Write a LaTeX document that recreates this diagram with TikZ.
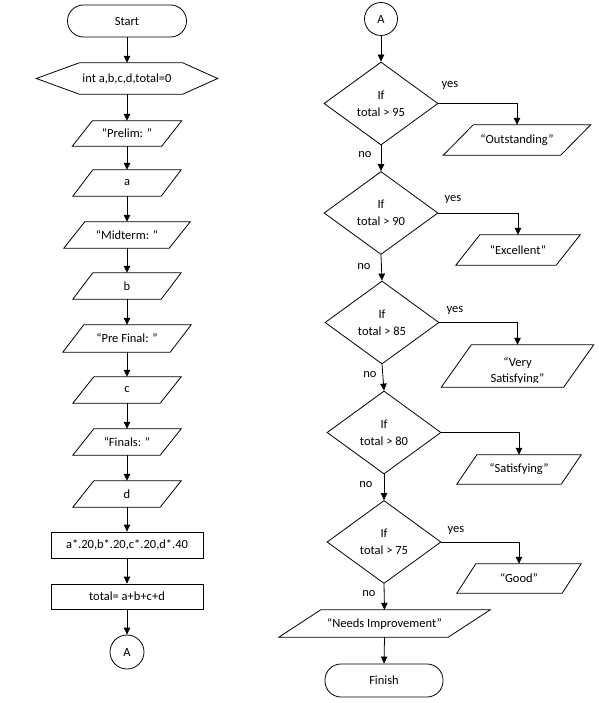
\documentclass[tikz,border=0pt]{standalone}
\usepackage{fontspec}
\setmainfont{Carlito}
\usetikzlibrary{shapes.geometric,arrows.meta}
\newcommand\ioshape[7]{%
  \node[iotext,minimum width=#4,minimum height=#5] (#1) at (#2,#3) {#7};
  \draw[shapeline] ([xshift=-#6/2]#1.south west) -- ([xshift=#6/2]#1.north west) -- ([xshift=#6/2]#1.north east) -- ([xshift=-#6/2]#1.south east) -- cycle;
}
\tikzset{
  every node/.style={font=\fontsize{12.5}{14}\selectfont, text=black},
  iotext/.style={inner sep=0pt, draw=none, align=center},
  shapeline/.style={draw=black, line width=0.8pt, line join=miter},
  term/.style={draw, line width=0.8pt, rounded corners=16pt, minimum width=119pt, minimum height=32pt, inner sep=0pt},
  proc/.style={draw, line width=0.8pt, minimum width=152pt, minimum height=26pt, inner sep=0pt},
  connect/.style={circle, draw, line width=0.8pt, minimum size=34pt, inner sep=0pt},
  decision/.style={diamond, draw, line width=0.8pt, minimum width=114pt, minimum height=83pt, inner sep=0pt, align=center, font=\fontsize{12.5}{17}\selectfont},
  arr/.style={-{Triangle[length=7pt,width=6.5pt]}, line width=0.8pt},
  lbl/.style={inner sep=0pt}
}
\begin{document}
\begin{tikzpicture}[x=1pt,y=-1pt]
\useasboundingbox (0,0) rectangle (598,703);
% left column
\node[term] (start) at (127,21) {Start};
\node[iotext, minimum width=181, minimum height=31] (hex) at (127,78.5) {int a,b,c,d,total=0};
\draw[shapeline] (hex.west) -- ([xshift=43]hex.north west) -- ([xshift=-35]hex.north east) -- (hex.east) -- ([xshift=-35]hex.south east) -- ([xshift=43]hex.south west) -- cycle;
\ioshape{prelim}{127}{133.5}{89}{25}{20}{“Prelim: ”}
\ioshape{va}{127}{183}{88}{26}{20}{a}
\ioshape{mid}{127}{235}{105}{26}{21}{“Midterm: ”}
\ioshape{vb}{127}{286}{88}{26}{20}{b}
\ioshape{pre}{127}{338.5}{107}{27}{21}{“Pre Final: ”}
\ioshape{vc}{127}{390}{87}{26}{21}{c}
\ioshape{fin}{127}{442}{87}{26}{21}{“Finals: ”}
\ioshape{vd}{127}{494}{87}{26}{21}{d}
\node[proc] (calc) at (127,545) {a*.20,b*.20,c*.20,d*.40};
\node[proc, minimum height=25pt] (tot) at (127,596.5) {total= a+b+c+d};
\node[connect] (A1) at (127,652) {A};
\draw[arr] (start.south) -- (hex.north);
\draw[arr] (hex.south) -- (prelim.north);
\draw[arr] (prelim.south) -- (va.north);
\draw[arr] (va.south) -- (mid.north);
\draw[arr] (mid.south) -- (vb.north);
\draw[arr] (vb.south) -- (pre.north);
\draw[arr] (pre.south) -- (vc.north);
\draw[arr] (vc.south) -- (fin.north);
\draw[arr] (fin.south) -- (vd.north);
\draw[arr] (vd.south) -- (calc.north);
\draw[arr] (calc.south) -- (tot.north);
\draw[arr] (tot.south) -- (A1.north);
% right column
\node[connect, minimum size=33pt] (A2) at (381,19) {A};
\node[decision] (d1) at (381,103.5) {If\\total > 95};
\node[decision] (d2) at (381,213) {If\\total > 90};
\node[decision] (d3) at (382,322.5) {If\\total > 85};
\node[decision] (d4) at (384,432.5) {If\\total > 80};
\node[decision] (d5) at (384,542) {If\\total > 75};
\ioshape{o1}{517}{140}{117}{30}{30}{“Outstanding”}
\ioshape{o2}{518}{250}{100}{30}{24}{“Excellent”}
\ioshape{o3}{517.5}{366}{122}{42}{30}{}
\begin{scope}
\clip (430,345) rectangle (598,382);
\node[iotext, font=\fontsize{12.5}{16}\selectfont] (o3t) at (517.5,371) {“Very\\Satisfying”};
\end{scope}
\ioshape{o4}{519}{469.5}{104}{29}{20}{“Satisfying”}
\ioshape{o5}{519}{578.5}{105}{29}{19}{“Good”}
\ioshape{ni}{384.5}{623.5}{169}{27}{42}{“Needs Improvement”}
\node[term, minimum width=118pt, minimum height=33pt] (finish) at (384,680.5) {Finish};
\draw[arr] (A2.south) -- (d1.north);
\draw[arr] (d1.south) -- (d2.north);
\draw[arr] (d2.south) -- (d3.north);
\draw[arr] (d3.south) -- (d4.north);
\draw[arr] (d4.south) -- (d5.north);
\draw[arr] (d5.south) -- (ni.north);
\draw[arr] (ni.south) -- (finish.north);
\draw[arr] (d1.east) -| (o1.north);
\draw[arr] (d2.east) -| (o2.north);
\draw[arr] (d3.east) -| (o3.north);
\draw[arr] (d4.east) -| (o4.north);
\draw[arr] (d5.east) -| (o5.north);
\node[lbl] (y1) at (450,85) {yes};
\node[lbl] (y2) at (453,199) {yes};
\node[lbl] (y3) at (455,310) {yes};
\node[lbl] (y5) at (456,530) {yes};
\node[lbl] (n1) at (365,155) {no};
\node[lbl] (n2) at (364,267) {no};
\node[lbl] (n3) at (370,375) {no};
\node[lbl] (n4) at (366,485) {no};
\node[lbl] (n5) at (369,594) {no};
\end{tikzpicture}
\end{document}
